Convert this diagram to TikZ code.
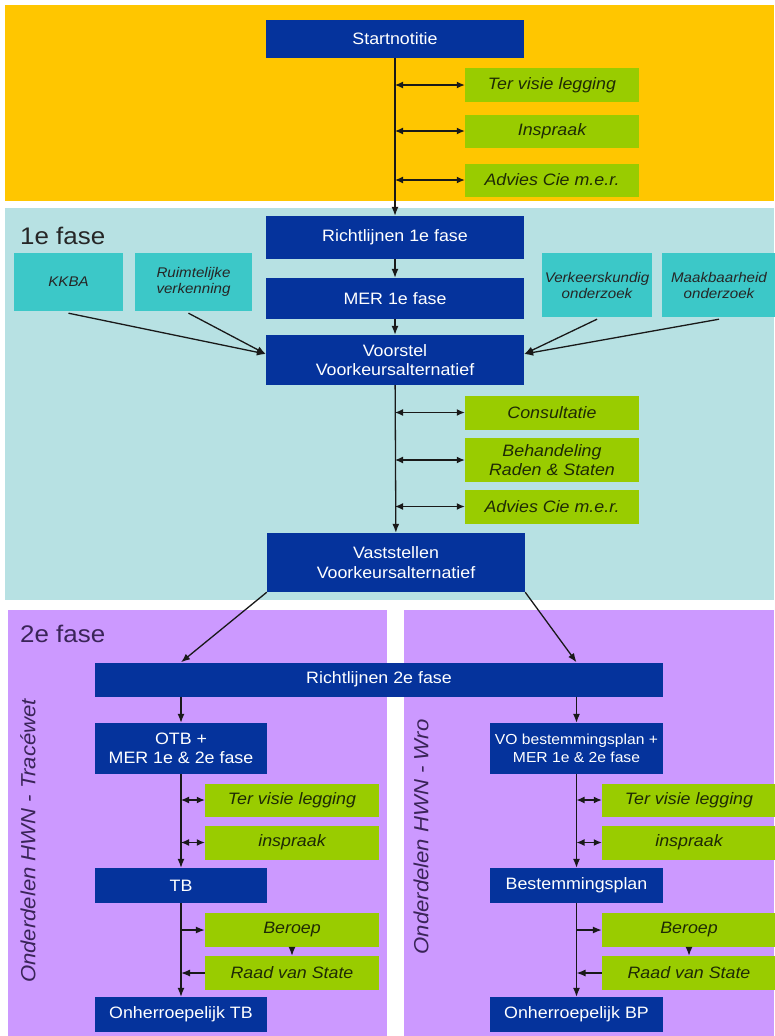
\documentclass[tikz,border=0pt]{standalone}
\usepackage{fontspec}
\setmainfont{Liberation Sans}[FakeStretch=1.08]
\usetikzlibrary{arrows.meta}
\definecolor{bandyellow}{HTML}{FFC600}
\definecolor{bandteal}{HTML}{B7E1E3}
\definecolor{boxteal}{HTML}{3CC8C8}
\definecolor{boxblue}{HTML}{05339C}
\definecolor{boxgreen}{HTML}{99CC00}
\definecolor{bandpurple}{HTML}{CC99FF}
\definecolor{darkpurple}{HTML}{3A2458}
\definecolor{greentext}{HTML}{1E2A05}
\tikzset{
  bluebox/.style={fill=boxblue, text=white, inner sep=0pt, align=center,
    font=\fontsize{16.5}{19.5}\selectfont},
  greenbox/.style={fill=boxgreen, text=greentext, inner sep=0pt, align=center,
    font=\fontsize{16.5}{19.5}\selectfont\itshape},
  tealbox/.style={fill=boxteal, text=black!85, inner sep=0pt, align=center,
    font=\fontsize{14}{16}\selectfont\itshape},
  arr/.style={draw=black!90, line width=1.3pt, -{Latex[length=9pt,width=7pt]}},
  dbl/.style={draw=black!90, line width=1.3pt, {Latex[length=8pt,width=7pt]}-{Latex[length=8pt,width=7pt]}},
  header/.style={anchor=west, inner sep=0pt, font=\fontsize{24}{24}\selectfont},
  sidelabel/.style={rotate=90, inner sep=0pt, text=darkpurple, font=\fontsize{20.5}{20.5}\selectfont\itshape}
}
\begin{document}
\begin{tikzpicture}[x=1pt,y=-1pt]
\useasboundingbox (0,0) rectangle (774,1036);
\fill[white] (0,0) rectangle (774,1036);
% bands
\fill[bandyellow] (5,5) rectangle (774,201);
\fill[bandteal] (5,208) rectangle (774,600);
\fill[bandpurple] (8,610) rectangle (387,1036);
\fill[bandpurple] (404,610) rectangle (774,1036);
\node[header, text=black!85] (h1) at (20,236) {1e fase};
\node[header, text=darkpurple] (h2) at (20,634) {2e fase};
\node[sidelabel] (sl) at (28,841) {Onderdelen HWN - Tracéwet};
\node[sidelabel] (sr) at (421,837) {Onderdelen HWN - Wro};

% top phase
\node[bluebox, minimum width=258pt, minimum height=38pt] (start) at (395,39) {Startnotitie};
\node[greenbox, minimum width=174pt, minimum height=34pt] (tvl) at (552,85) {Ter visie legging};
\node[greenbox, minimum width=174pt, minimum height=33pt] (insp) at (552,131) {Inspraak};
\node[greenbox, minimum width=174pt, minimum height=33pt] (adv) at (552,180) {Advies Cie m.e.r.};

% 1e fase
\node[bluebox, minimum width=258pt, minimum height=43pt] (rl1) at (395,237.5) {Richtlijnen 1e fase};
\node[bluebox, minimum width=258pt, minimum height=41pt] (mer1) at (395,298.5) {MER 1e fase};
\node[bluebox, minimum width=258pt, minimum height=50pt] (voor) at (395,360) {Voorstel\\Voorkeursalternatief};
\node[tealbox, minimum width=109pt, minimum height=58pt] (kkba) at (68.5,282) {KKBA};
\node[tealbox, minimum width=117pt, minimum height=58pt] (ruim) at (193.5,282) {Ruimtelijke\\verkenning};
\node[tealbox, minimum width=110pt, minimum height=64pt] (verk) at (597,285) {Verkeerskundig\\onderzoek};
\node[tealbox, minimum width=114pt, minimum height=64pt] (maak) at (719,285) {Maakbaarheid\\onderzoek};
\node[greenbox, minimum width=174pt, minimum height=34pt] (cons) at (552,412.5) {Consultatie};
\node[greenbox, minimum width=174pt, minimum height=44pt] (beh) at (552,460) {Behandeling\\Raden \& Staten};
\node[greenbox, minimum width=174pt, minimum height=34pt] (adv2) at (552,506.5) {Advies Cie m.e.r.};
\node[bluebox, minimum width=258pt, minimum height=59pt] (vast) at (396,562.5) {Vaststellen\\Voorkeursalternatief};

% 2e fase
\node[bluebox, minimum width=568pt, minimum height=34pt] (rl2) at (379,679.5) {Richtlijnen 2e fase};
% left column
\node[bluebox, minimum width=172pt, minimum height=51pt] (otb) at (181,748.5) {OTB +\\MER 1e \& 2e fase};
\node[greenbox, minimum width=174pt, minimum height=33pt] (tvlL) at (292,800) {Ter visie legging};
\node[greenbox, minimum width=174pt, minimum height=34pt] (inspL) at (292,842.5) {inspraak};
\node[bluebox, minimum width=172pt, minimum height=35pt] (tb) at (181,885.5) {TB};
\node[greenbox, minimum width=174pt, minimum height=34pt] (berL) at (292,930) {Beroep};
\node[greenbox, minimum width=174pt, minimum height=34pt] (raadL) at (292,973) {Raad van State};
\node[bluebox, minimum width=172pt, minimum height=35pt] (onhtb) at (181,1014.5) {Onherroepelijk TB};
% right column
\node[bluebox, minimum width=173pt, minimum height=51pt, font=\fontsize{14.5}{17.5}\selectfont] (vo) at (576.5,748.5) {VO bestemmingsplan +\\MER 1e \& 2e fase};
\node[greenbox, minimum width=174pt, minimum height=33pt] (tvlR) at (689,800) {Ter visie legging};
\node[greenbox, minimum width=174pt, minimum height=34pt] (inspR) at (689,842.5) {inspraak};
\node[bluebox, minimum width=173pt, minimum height=35pt] (bp) at (576.5,885.5) {Bestemmingsplan};
\node[greenbox, minimum width=174pt, minimum height=34pt] (berR) at (689,930) {Beroep};
\node[greenbox, minimum width=174pt, minimum height=34pt] (raadR) at (689,973) {Raad van State};
\node[bluebox, minimum width=173pt, minimum height=35pt] (onhbp) at (576.5,1014.5) {Onherroepelijk BP};

% connectors top
\draw[arr] (start) -- (rl1);
\draw[dbl] (tvl.west -| start.south) -- (tvl.west);
\draw[dbl] (insp.west -| start.south) -- (insp.west);
\draw[dbl] (adv.west -| start.south) -- (adv.west);
% connectors 1e fase
\draw[arr] (rl1) -- (mer1);
\draw[arr] (mer1) -- (voor);
\draw[arr] (voor) -- (vast);
\draw[dbl] (cons.west -| voor.south) -- (cons.west);
\draw[dbl] (beh.west -| voor.south) -- (beh.west);
\draw[dbl] (adv2.west -| voor.south) -- (adv2.west);
\draw[arr] ([yshift=-2pt]kkba.south) -- ([yshift=6pt]voor.west);
\draw[arr] ([xshift=-5pt,yshift=-2pt]ruim.south) -- ([yshift=6pt]voor.west);
\draw[arr] ([yshift=-2pt]verk.south) -- ([yshift=6pt]voor.east);
\draw[arr] ([yshift=-2pt]maak.south) -- ([yshift=6pt]voor.east);
% connectors 2e fase
\draw[arr] (vast.south west) -- (rl2.north -| otb);
\draw[arr] (vast.south east) -- (rl2.north -| vo);
\draw[arr] (rl2.south -| otb) -- (otb);
\draw[arr] (rl2.south -| vo) -- (vo);
% left column
\draw[arr] (otb) -- (tb);
\draw[dbl] (tvlL.west -| otb.south) -- (tvlL.west);
\draw[dbl] (inspL.west -| otb.south) -- (inspL.west);
\draw[arr] (tb) -- (onhtb);
\draw[arr] (berL.west -| tb.south) -- (berL.west);
\draw[arr] (berL) -- (raadL);
\draw[arr] (raadL.west) -- (raadL.west -| tb.south);
% right column
\draw[arr] (vo) -- (bp);
\draw[dbl] (tvlR.west -| vo.south) -- (tvlR.west);
\draw[dbl] (inspR.west -| vo.south) -- (inspR.west);
\draw[arr] (bp) -- (onhbp);
\draw[arr] (berR.west -| bp.south) -- (berR.west);
\draw[arr] (berR) -- (raadR);
\draw[arr] (raadR.west) -- (raadR.west -| bp.south);
\end{tikzpicture}
\end{document}
